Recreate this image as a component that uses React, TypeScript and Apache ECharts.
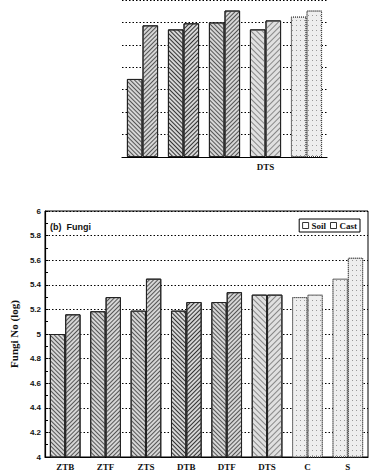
import React, { useEffect, useRef } from "react";
import * as echarts from "echarts";

// Panel (b) Fungi
const categories = ["ZTB", "ZTF", "ZTS", "DTB", "DTF", "DTS", "C", "S"];
const soilFungi = [5.0, 5.185, 5.19, 5.19, 5.26, 5.32, 5.3, 5.45];
const castFungi = [5.16, 5.3, 5.45, 5.26, 5.34, 5.32, 5.32, 5.62];

// Cropped fragment of panel (a) at the top of the page
const fragCategories = ["ZTS", "DTB", "DTF", "DTS", "C"];
const fragSoil = [3.48, 5.69, 6.0, 5.69, 6.26];
const fragCast = [5.87, 5.96, 6.53, 6.09, 6.53];

const patternOf: Record<string, string> = {
  ZTB: "hatch",
  ZTF: "hatch",
  ZTS: "hatch",
  DTB: "dense",
  DTF: "hatch",
  DTS: "light",
  C: "stipple",
  S: "stipple",
};

function styleFor(cat: string, cast: boolean) {
  const p = patternOf[cat];
  const rot = cast ? -Math.PI / 4 : Math.PI / 4;
  if (p === "stipple") {
    return {
      color: "#eeeeee",
      borderColor: "#444",
      borderWidth: 1,
      borderType: "dotted",
      decal: { symbol: "rect", symbolSize: 1, dashArrayX: [1, 3], dashArrayY: [1, 4], color: "#999" },
    };
  }
  const lineColor = p === "dense" ? "#333" : p === "light" ? "#888" : "#555";
  const gap = p === "dense" ? 1.5 : p === "light" ? 3 : 2;
  return {
    color: p === "light" ? "#e0e0e0" : "#d6d6d6",
    borderColor: "#222",
    borderWidth: 1,
    decal: { symbol: "rect", dashArrayX: [1, 0], dashArrayY: [1, gap], rotation: rot, color: lineColor },
  };
}

const serif = "Liberation Serif";
const sans = "Liberation Sans";

export default function App() {
  const ref = useRef<HTMLDivElement>(null);
  useEffect(() => {
    if (!ref.current) return;
    const chart = echarts.init(ref.current, null, { renderer: "svg" });
    const option: any = {
      animation: false,
      backgroundColor: "#fff",
      legend: {
        data: ["Soil", "Cast"],
        right: 9,
        top: 219,
        icon: "rect",
        itemWidth: 6,
        itemHeight: 6,
        itemGap: 4,
        padding: [2, 3],
        borderColor: "#000",
        borderWidth: 1,
        itemStyle: { color: "#fff", borderColor: "#000", borderWidth: 0.8, decal: "none" },
        textStyle: { fontFamily: serif, fontWeight: "bold", fontSize: 9, color: "#111", padding: [0, 0, 0, -2] },
      },
      graphic: [
        {
          type: "text",
          left: 50,
          top: 222,
          style: { text: "(b)  Fungi", fontFamily: sans, fontWeight: "bold", fontSize: 9, fill: "#111" },
        },
      ],
      grid: [
        { left: 40, right: 1, top: 211, bottom: 14, show: true, borderColor: "#000", borderWidth: 1, containLabel: false },
        { left: 122, width: 205, top: -1.7, height: 158.7, containLabel: false },
      ],
      xAxis: [
        {
          type: "category",
          gridIndex: 0,
          data: categories,
          axisLine: { lineStyle: { color: "#000", width: 1.2 } },
          axisTick: { show: false },
          axisLabel: { fontFamily: serif, fontWeight: "bold", fontSize: 9, color: "#111", margin: 5 },
        },
        {
          type: "category",
          gridIndex: 1,
          data: fragCategories,
          axisLine: { lineStyle: { color: "#000", width: 1.2 } },
          axisTick: { show: false },
          axisLabel: {
            fontFamily: serif,
            fontWeight: "bold",
            fontSize: 9,
            color: "#111",
            margin: 5,
            formatter: (v: string) => (v === "DTS" ? v : ""),
          },
        },
      ],
      yAxis: [
        {
          type: "value",
          gridIndex: 0,
          min: 4,
          max: 6,
          interval: 0.2,
          name: "Fungi No (log)",
          nameLocation: "middle",
          nameGap: 22,
          nameTextStyle: { fontFamily: serif, fontWeight: "bold", fontSize: 11, color: "#111" },
          axisLine: { show: true, lineStyle: { color: "#000", width: 1.2 } },
          axisTick: { show: true, inside: true, length: 3, lineStyle: { color: "#000" } },
          minorTick: { show: true, splitNumber: 2, length: 3, lineStyle: { color: "#000" } },
          axisLabel: { fontFamily: sans, fontWeight: "bold", fontSize: 8, color: "#111", margin: 4 },
          splitLine: { show: true, lineStyle: { color: "#000", type: [1.5, 2], width: 1 } },
        },
        {
          type: "value",
          gridIndex: 1,
          min: 0,
          max: 7,
          interval: 1,
          axisLine: { show: false },
          axisTick: { show: false },
          axisLabel: { show: false },
          splitLine: { show: true, lineStyle: { color: "#000", type: [1.5, 2], width: 1 } },
        },
      ],
      series: [
        {
          name: "Soil",
          type: "bar",
          xAxisIndex: 0,
          yAxisIndex: 0,
          barGap: "0%",
          barCategoryGap: "24%",
          data: soilFungi.map((v, i) => ({ value: v, itemStyle: styleFor(categories[i], false) })),
          itemStyle: { color: "#fff", borderColor: "#000", borderWidth: 1 },
        },
        {
          name: "Cast",
          type: "bar",
          xAxisIndex: 0,
          yAxisIndex: 0,
          barGap: "0%",
          barCategoryGap: "24%",
          data: castFungi.map((v, i) => ({ value: v, itemStyle: styleFor(categories[i], true) })),
          itemStyle: { color: "#fff", borderColor: "#000", borderWidth: 1 },
        },
        {
          name: "fragSoil",
          type: "bar",
          xAxisIndex: 1,
          yAxisIndex: 1,
          barGap: "0%",
          barCategoryGap: "24%",
          data: fragSoil.map((v, i) => ({ value: v, itemStyle: styleFor(fragCategories[i], false) })),
        },
        {
          name: "fragCast",
          type: "bar",
          xAxisIndex: 1,
          yAxisIndex: 1,
          barGap: "0%",
          barCategoryGap: "24%",
          data: fragCast.map((v, i) => ({ value: v, itemStyle: styleFor(fragCategories[i], true) })),
        },
      ],
    };
    chart.setOption(option);
    return () => chart.dispose();
  }, []);
  return (
    <div
      ref={ref}
      style={{ width: 369, height: 471, position: "fixed", left: 0, top: 0 }}
    />
  );
}
